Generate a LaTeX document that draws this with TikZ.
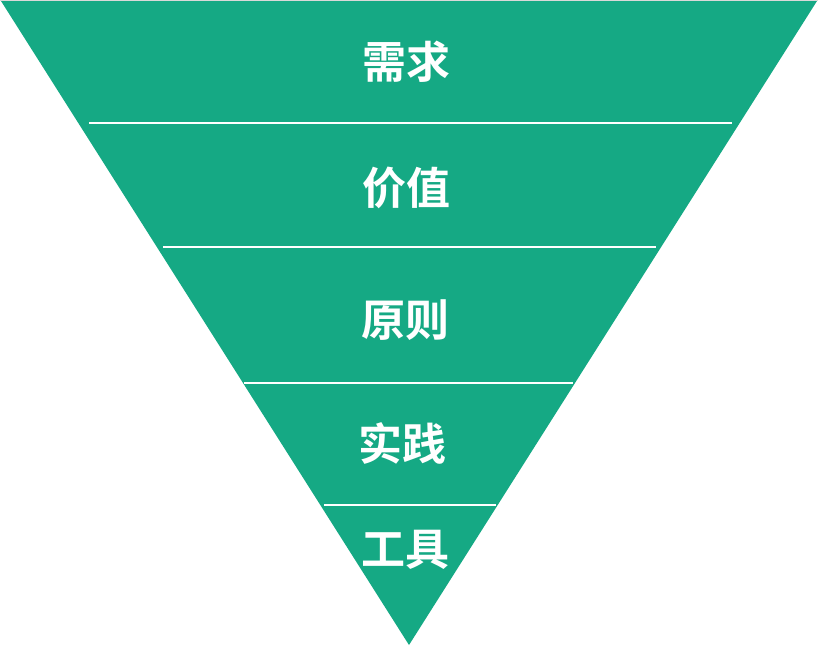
\documentclass[tikz,border=0pt]{standalone}
\usepackage{fontspec}
\newfontfamily\cjk{Noto Sans CJK SC}[BoldFont={Noto Sans CJK SC Bold}]
\definecolor{funnel}{HTML}{15A984}
\tikzset{layer/.style={text=white,font=\cjk\bfseries\fontsize{44}{44}\selectfont,inner sep=0pt}}
\begin{document}
\begin{tikzpicture}[x=1pt,y=-1pt]
 \useasboundingbox (0,0) rectangle (818,646);
 \draw[gray!30,line width=1.5pt](0,0.5)--(818,0.5);
 \fill[funnel](1,1)--(817,1)--(409,645)--cycle;
 \draw[white,line width=2pt](89,122.5)--(732,122.5);
 \draw[white,line width=2pt](163,246.5)--(656,246.5);
 \draw[white,line width=2pt](244,382.5)--(573,382.5);
 \draw[white,line width=2pt](324,504.5)--(496,504.5);
 \node[layer] (need) at (406,62) {需求};
 \node[layer] (value) at (406,188) {价值};
 \node[layer] (rule) at (405,320) {原则};
 \node[layer] (practice) at (402,443) {实践};
 \node[layer] (tool) at (405,550) {工具};
\end{tikzpicture}
\end{document}
